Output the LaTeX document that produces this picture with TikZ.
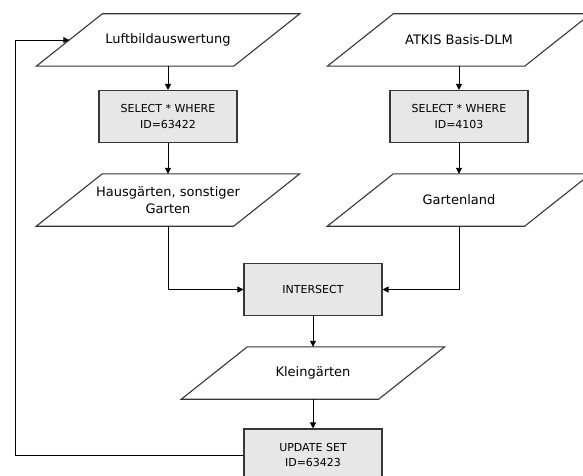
\documentclass[tikz,border=0pt]{standalone}
\usepackage{fontspec}
\setmainfont{DejaVu Sans}
\usetikzlibrary{arrows.meta}
\definecolor{boxfill}{RGB}{231,231,231}
\definecolor{edge}{RGB}{55,55,55}
\tikzset{
  procbox/.style={draw=edge, fill=boxfill, line width=1.1pt, minimum width=138pt,
    minimum height=52pt, inner sep=0pt, align=center,
    font=\fontsize{11pt}{15.5pt}\selectfont},
  iobox/.style={minimum width=197pt, minimum height=52pt, inner sep=0pt,
    align=center, font=\fontsize{13pt}{17pt}\selectfont},
  ioline/.style={draw=edge, line width=1.1pt, line join=miter},
  flow/.style={draw=black, line width=0.9pt, -{Triangle[length=6pt,width=6pt]}},
  plain/.style={draw=black, line width=0.9pt}
}
\begin{document}
\begin{tikzpicture}[x=1pt,y=-1pt]
  \useasboundingbox (0,0) rectangle (583,476);
  \clip (0,0) rectangle (583,476);

  % data sets (parallelograms) and operations (boxes)
  \node[iobox] (luft)   at (168,40)  {Luftbildauswertung};
  \node[iobox] (atkis)  at (459,40)  {ATKIS Basis-DLM};
  \node[procbox] (sel1) at (168,116.5) {SELECT * WHERE\\ID=63422};
  \node[procbox] (sel2) at (459,116.5) {SELECT * WHERE\\ID=4103};
  \node[iobox] (haus)   at (168,200) {Hausgärten, sonstiger\\Garten};
  \node[iobox] (garten) at (459,200) {Gartenland};
  \node[procbox] (inter) at (313,289.5) {INTERSECT};
  \node[iobox] (klein)  at (313,373) {Kleingärten};
  \node[procbox] (upd)  at (313,455) {UPDATE SET\\ID=63423};

  % slanted outlines of the data sets
  \foreach \n in {luft,atkis,haus,garten,klein}
    \draw[ioline] ([xshift=-33pt]\n.south west) -- ([xshift=33pt]\n.north west)
      -- ([xshift=33pt]\n.north east) -- ([xshift=-33pt]\n.south east) -- cycle;

  % flow
  \draw[flow] (luft) -- (sel1);
  \draw[flow] (sel1) -- (haus);
  \draw[flow] (atkis) -- (sel2);
  \draw[flow] (sel2) -- (garten);
  \draw[flow] (haus.south) |- (inter.west);
  \draw[flow] (garten.south) |- (inter.east);
  \draw[flow] (inter) -- (klein);
  \draw[flow] (klein) -- (upd);

  % feedback loop
  \coordinate (loop) at (15,40);
  \draw[flow] (upd.west) -| (loop) -- (luft.west);
\end{tikzpicture}
\end{document}
